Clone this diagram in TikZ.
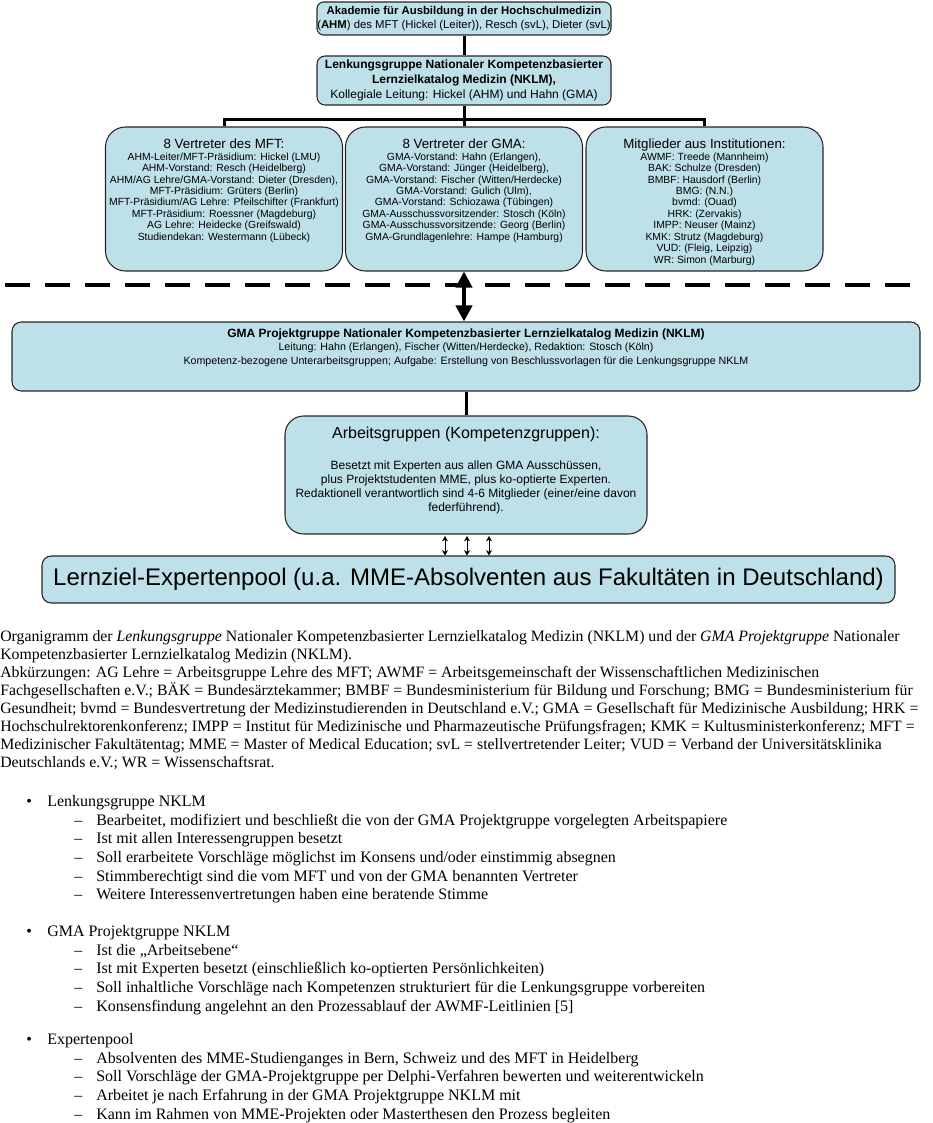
\documentclass[tikz,border=0pt]{standalone}
\usepackage{fontspec}
\setmainfont{Liberation Serif}
\setsansfont{Liberation Sans}
\usepackage{tikz}
\usetikzlibrary{positioning, calc, shapes, arrows.meta}
\usepackage{xcolor}
\definecolor{boxblue}{RGB}{190,224,232}
\tikzstyle{Box} = [
draw=black!85, line width=0.8pt, fill=boxblue,
inner sep=0pt, align=center, font=\sffamily]
\tikzstyle{Tree} = [line width=2.25pt]
\tikzstyle{BigArrow} = [line width=3pt,
{Triangle[width=12pt,length=12pt]}-{Triangle[width=12pt,length=12pt]}]
\tikzstyle{SmallArrow} = [line width=0.7pt,
{Stealth[width=4.5pt,length=4pt]}-{Stealth[width=4.5pt,length=4pt]}]
\tikzstyle{Divider} = [line width=3pt, dash pattern=on 19pt off 11pt]
\tikzstyle{Caption} = [inner sep=0pt, align=left, anchor=north west,
font=\fontsize{11.85}{13.5}\selectfont]
\tikzstyle{List} = [inner sep=0pt, align=left, anchor=north west,
font=\fontsize{12}{14}\selectfont]
% text block at the top of a box
\newcommand\boxtop[4]{\parbox[c][#2][t]{#1}{\centering\vspace*{#3}#4\par}}
\newcommand\orgbul[1]{\makebox[15.75pt][l]{\textbullet}#1}
\newcommand\orgdash[1]{\hspace*{36pt}\makebox[16.5pt][l]{\textendash}#1}

\begin{document}
\begin{tikzpicture}[x=0.75pt, y=-0.75pt]
    \useasboundingbox (0,0) rectangle (932,1123);

    \node [Box, rounded corners=5pt, minimum width=220.5pt, minimum height=24.75pt,
        font=\sffamily\fontsize{8.5}{11}\selectfont] (ahm) at (464,18.5)
        {\textbf{Akademie für Ausbildung in der Hochschulmedizin}\\
        (\textbf{AHM}) des MFT (Hickel (Leiter)), Resch (svL), Dieter (svL)};
    \node [Box, rounded corners=6pt, minimum width=220.5pt, minimum height=36.75pt,
        font=\sffamily\fontsize{9}{11.25}\selectfont] (lenk) at (464,80.5)
        {\textbf{Lenkungsgruppe Nationaler Kompetenzbasierter}\\
        \textbf{Lernzielkatalog Medizin (NKLM),}\\
        Kollegiale Leitung: Hickel (AHM) und Hahn (GMA)};

    \node [Box, rounded corners=15pt] (mft) at (224,199)
        {\boxtop{177.75pt}{108pt}{9pt}{{\fontsize{10}{8.6}\selectfont 8 Vertreter des MFT:\par}
        \fontsize{7.8}{8.6}\selectfont
        AHM-Leiter/MFT-Präsidium: Hickel (LMU)\\
        AHM-Vorstand: Resch (Heidelberg)\\
        AHM/AG Lehre/GMA-Vorstand: Dieter (Dresden),\\
        MFT-Präsidium: Grüters (Berlin)\\
        MFT-Präsidium/AG Lehre: Pfeilschifter (Frankfurt)\\
        MFT-Präsidium: Roessner (Magdeburg)\\
        AG Lehre: Heidecke (Greifswald)\\
        Studiendekan: Westermann (Lübeck)}};
    \node [Box, rounded corners=15pt] (gmav) at (464,199)
        {\boxtop{177.75pt}{108pt}{9pt}{{\fontsize{10}{8.6}\selectfont 8 Vertreter der GMA:\par}
        \fontsize{7.8}{8.6}\selectfont
        GMA-Vorstand: Hahn (Erlangen),\\
        GMA-Vorstand: Jünger (Heidelberg),\\
        GMA-Vorstand: Fischer (Witten/Herdecke)\\
        GMA-Vorstand: Gulich (Ulm),\\
        GMA-Vorstand: Schiozawa (Tübingen)\\
        GMA-Ausschussvorsitzender: Stosch (Köln)\\
        GMA-Ausschussvorsitzende: Georg (Berlin)\\
        GMA-Grundlagenlehre: Hampe (Hamburg)}};
    \node [Box, rounded corners=15pt] (inst) at (704.5,199)
        {\boxtop{177.75pt}{108pt}{9pt}{{\fontsize{10}{8.6}\selectfont Mitglieder aus Institutionen:\par}
        \fontsize{7.8}{8.6}\selectfont
        AWMF: Treede (Mannheim)\\
        BAK: Schulze (Dresden)\\
        BMBF: Hausdorf (Berlin)\\
        BMG: (N.N.)\\
        bvmd: (Ouad)\\
        HRK: (Zervakis)\\
        IMPP: Neuser (Mainz)\\
        KMK: Strutz (Magdeburg)\\
        VUD: (Fleig, Leipzig)\\
        WR: Simon (Marburg)}};

    \node [Box, rounded corners=7pt] (gma) at (466,356.5)
        {\boxtop{681pt}{51.75pt}{5pt}{\fontsize{8}{10}\selectfont
        {\fontsize{9}{10}\selectfont\bfseries GMA Projektgruppe Nationaler Kompetenzbasierter Lernzielkatalog Medizin (NKLM)\par}
        Leitung: Hahn (Erlangen), Fischer (Witten/Herdecke), Redaktion: Stosch (Köln)\\
        Kompetenz-bezogene Unterarbeitsgruppen; Aufgabe: Erstellung von Beschlussvorlagen für die Lenkungsgruppe NKLM}};
    \node [Box, rounded corners=14pt] (arbeit) at (466,475)
        {\boxtop{271.5pt}{88.5pt}{8pt}{{\fontsize{12}{14}\selectfont Arbeitsgruppen (Kompetenzgruppen):\par}
        \vspace{13pt}\fontsize{9}{10.5}\selectfont
        Besetzt mit Experten aus allen GMA Ausschüssen,\\
        plus Projektstudenten MME, plus ko-optierte Experten.\\
        Redaktionell verantwortlich sind 4-6 Mitglieder (einer/eine davon\\
        federführend).}};
    \node [Box, rounded corners=7pt, minimum width=639.75pt, minimum height=35.25pt,
        font=\sffamily\fontsize{18}{20}\selectfont] (pool) at (468.5,579.5)
        {Lernziel-Expertenpool (u.a. MME-Absolventen aus Fakultäten in Deutschland)};

    \coordinate (bus) at (464,120);
    \coordinate (dl) at (5,285);
    \coordinate (dr) at (925,285);

    \draw[Tree] (ahm.south) -- (lenk.north);
    \draw[Tree] (lenk.south) -- (gmav.north);
    \draw[Tree] (mft.north) |- (bus) -| (inst.north);
    \draw[Divider] (dl) -- (dr);
    \draw[BigArrow] (gmav.south) -- (gmav.south |- gma.north);
    \draw[Tree] (arbeit.north) -- (arbeit.north |- gma.south);
    \foreach \dx in {-21,1,23} {
        \path ($(arbeit.south)+(\dx,1.5)$) coordinate (tip);
        \draw[SmallArrow] (tip) -- (tip |- pool.north);
    }

    \node [Caption] (caption) at (0,630)
        {Organigramm der \textit{Lenkungsgruppe} Nationaler Kompetenzbasierter Lernzielkatalog Medizin (NKLM) und der \textit{GMA Projektgruppe} Nationaler\\
        Kompetenzbasierter Lernzielkatalog Medizin (NKLM).\\
        Abkürzungen: AG Lehre = Arbeitsgruppe Lehre des MFT; AWMF = Arbeitsgemeinschaft der Wissenschaftlichen Medizinischen\\
        Fachgesellschaften e.V.; BÄK = Bundesärztekammer; BMBF = Bundesministerium für Bildung und Forschung; BMG = Bundesministerium für\\
        Gesundheit; bvmd = Bundesvertretung der Medizinstudierenden in Deutschland e.V.; GMA = Gesellschaft für Medizinische Ausbildung; HRK =\\
        Hochschulrektorenkonferenz; IMPP = Institut für Medizinische und Pharmazeutische Prüfungsfragen; KMK = Kultusministerkonferenz; MFT =\\
        Medizinischer Fakultätentag; MME = Master of Medical Education; svL = stellvertretender Leiter; VUD = Verband der Universitätsklinika\\
        Deutschlands e.V.; WR = Wissenschaftsrat.};

    \node [List] (lenklist) at (26,795)
        {\orgbul{Lenkungsgruppe NKLM}\\
        \orgdash{Bearbeitet, modifiziert und beschließt die von der GMA Projektgruppe vorgelegten Arbeitspapiere}\\
        \orgdash{Ist mit allen Interessengruppen besetzt}\\
        \orgdash{Soll erarbeitete Vorschläge möglichst im Konsens und/oder einstimmig absegnen}\\
        \orgdash{Stimmberechtigt sind die vom MFT und von der GMA benannten Vertreter}\\
        \orgdash{Weitere Interessenvertretungen haben eine beratende Stimme}};
    \node [List] (gmalist) at (26,925)
        {\orgbul{GMA Projektgruppe NKLM}\\
        \orgdash{Ist die „Arbeitsebene“}\\
        \orgdash{Ist mit Experten besetzt (einschließlich ko-optierten Persönlichkeiten)}\\
        \orgdash{Soll inhaltliche Vorschläge nach Kompetenzen strukturiert für die Lenkungsgruppe vorbereiten}\\
        \orgdash{Konsensfindung angelehnt an den Prozessablauf der AWMF-Leitlinien [5]}};
    \node [List] (poollist) at (26,1033)
        {\orgbul{Expertenpool}\\
        \orgdash{Absolventen des MME-Studienganges in Bern, Schweiz und des MFT in Heidelberg}\\
        \orgdash{Soll Vorschläge der GMA-Projektgruppe per Delphi-Verfahren bewerten und weiterentwickeln}\\
        \orgdash{Arbeitet je nach Erfahrung in der GMA Projektgruppe NKLM mit}\\
        \orgdash{Kann im Rahmen von MME-Projekten oder Masterthesen den Prozess begleiten}};
\end{tikzpicture}
\end{document}
